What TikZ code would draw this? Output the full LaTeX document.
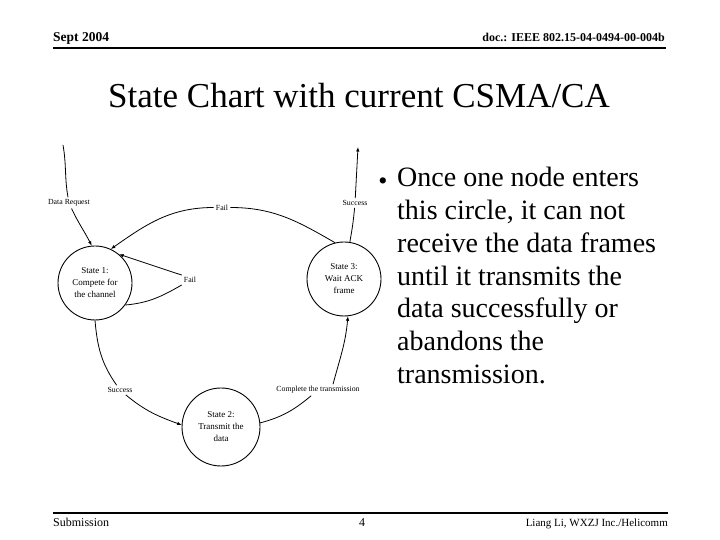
\documentclass[tikz,border=0pt]{standalone}
\usepackage{fontspec}
\setmainfont{Liberation Serif}
\usetikzlibrary{arrows.meta,positioning}

\begin{document}
\begin{tikzpicture}[x=1pt,y=1pt,
	statenode/.style={circle,draw,line width=0.9pt,minimum size=74pt,inner sep=0pt,align=center,font=\fontsize{9}{12}\selectfont},
	edgelabel/.style={inner sep=2pt,font=\fontsize{7.8}{9}\selectfont},
	edge/.style={line width=0.8pt},
	arr/.style={-{Latex[length=4.5pt,width=3.5pt]}},
	rule/.style={line width=2pt},
	bullettext/.style={anchor=base west,inner sep=0pt,font=\fontsize{28}{33}\selectfont}]
	\useasboundingbox (0,0) rectangle (720,540);
	
	% header and footer
	\node[anchor=base west,inner sep=0pt,font=\fontsize{13.5}{15}\selectfont\bfseries] (date) at (53,498) {Sept 2004};
	\node[anchor=base east,inner sep=0pt,font=\fontsize{12}{14}\selectfont\bfseries] (docnum) at (665,498) {doc.: IEEE 802.15-04-0494-00-004b};
	\draw[rule] (53,492) -- (666,492);
	\draw[rule] (53,27) -- (668,27);
	\node[anchor=base west,inner sep=0pt,font=\fontsize{12}{14}\selectfont] (submit) at (53,13) {Submission};
	\node[anchor=base,inner sep=0pt,font=\fontsize{12}{14}\selectfont] (pagenum) at (362,13) {4};
	\node[anchor=base east,inner sep=0pt,font=\fontsize{11}{14}\selectfont] (authors) at (668,13) {Liang Li, WXZJ Inc./Helicomm};
	
	% title
	\node[anchor=base,inner sep=0pt,font=\fontsize{35}{40}\selectfont] (title) at (359,432) {State Chart with current CSMA/CA};
	
	% states
	\node[statenode] (s1) at (95,257) {State 1:\\Compete for\\the channel};
	\node[statenode] (s3) at (344,261) {State 3:\\Wait ACK\\frame};
	\node[statenode,minimum size=78pt] (s2) at (221,113) {State 2:\\Transmit the\\data};
	
	% transition labels
	\node[edgelabel] (ldata) at (69,337) {Data Request};
	\node[edgelabel] (lfail) at (222,332.5) {Fail};
	\node[edgelabel] (lloop) at (190,260) {Fail};
	\node[edgelabel] (lsucc) at (355,337) {Success};
	\node[edgelabel] (lsend) at (120,150) {Success};
	\node[edgelabel] (ldone) at (318,150) {Complete the transmission};
	\coordinate (datain) at (63,395);
	\coordinate (succout) at (358,393);
	
	% transitions
	\draw[edge] (datain) to[out=-80,in=100] (ldata);
	\draw[edge,arr] (ldata) to[out=-65,in=117] (s1.95);
	\draw[edge] (s3.104) to[out=150,in=0] (lfail);
	\draw[edge,arr] (lfail) to[out=180,in=35] (s1.65);
	\draw[edge] (s1.-36) to[out=5,in=-150] (lloop.south west);
	\draw[edge,arr] (lloop.north west) to[out=162,in=-18] (s1.50);
	\draw[edge] (s3.81) to[out=80,in=-95] (lsucc);
	\draw[edge,arr] (lsucc) -- (succout);
	\draw[edge] (s1.-90) to[out=-85,in=125] (lsend);
	\draw[edge,arr] (lsend) to[out=-40,in=160] (s2.177);
	\draw[edge] (s2.6) to[out=15,in=-140] (ldone);
	\draw[edge,arr] ([xshift=15pt]ldone.north) to[out=75,in=-95] (s3.-84);
	
	% bullet text
	\node[anchor=base,inner sep=0pt,font=\fontsize{26}{28}\selectfont] (dot) at (383,350) {\textbullet};
	\foreach \ln [count=\i from 0] in {{Once one node enters},{this circle, it can not},{receive the data frames},{until it transmits the},{data successfully or},{abandons the},{transmission.}}
		\node[bullettext] (line\i) at (397,353-32.7*\i) {\ln};
\end{tikzpicture}
\end{document}
